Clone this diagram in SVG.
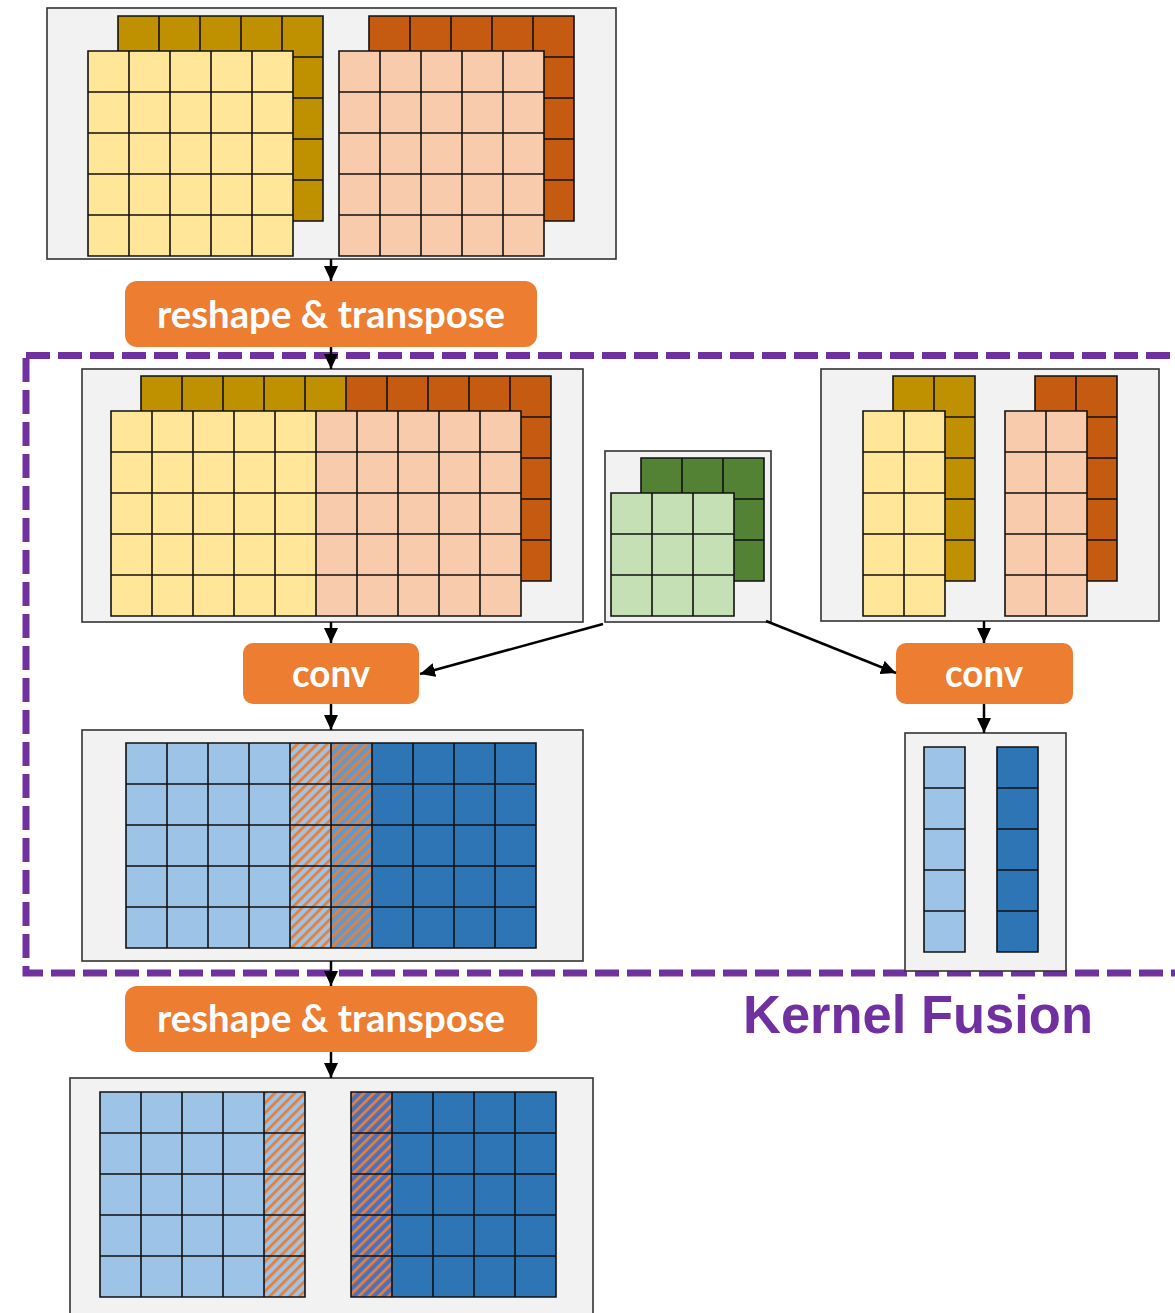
<svg xmlns="http://www.w3.org/2000/svg" width="1175" height="1313" viewBox="0 0 1175 1313">
<style>
.box{fill:#F2F2F2;stroke:#333;stroke-width:1.6}
.gl{fill:none;stroke:#111;stroke-width:1.6}
.op{fill:#ED7D31}
.opt{font-family:Lato,"Open Sans","Liberation Sans",sans-serif;font-weight:bold;font-size:38px;fill:#FFFFFF;text-anchor:middle}
.con{fill:none;stroke:#000;stroke-width:2.5}
.gold{fill:#BF9000}.orng{fill:#C55A11}.yel{fill:#FFE699}.pink{fill:#F8CBAD}
.dg{fill:#548235}.lg{fill:#C5E0B4}.lb{fill:#9DC3E6}.db{fill:#2E75B6}
</style>
<defs>
<marker id="ah" markerUnits="userSpaceOnUse" markerWidth="16" markerHeight="14" refX="15" refY="7" orient="auto">
<path d="M0,0 L15,7 L0,14 z" fill="#000"/>
</marker>
<pattern id="hatchL" patternUnits="userSpaceOnUse" width="7" height="7" patternTransform="rotate(45)"><rect width="7" height="7" fill="#9DC3E6"/><rect width="2.8" height="7" fill="#ED7D31"/></pattern>
<pattern id="hatchM" patternUnits="userSpaceOnUse" width="7" height="7" patternTransform="rotate(45)"><rect width="7" height="7" fill="#5B9BD5"/><rect width="2.8" height="7" fill="#ED7D31"/></pattern>
<pattern id="hatchD" patternUnits="userSpaceOnUse" width="7" height="7" patternTransform="rotate(45)"><rect width="7" height="7" fill="#4472C4"/><rect width="2.8" height="7" fill="#ED7D31"/></pattern>
</defs>

<!-- Kernel fusion boundary -->
<g id="kernel-fusion">
<path d="M26 355.5 H1200" fill="none" stroke="#7030A0" stroke-width="7" stroke-dasharray="24 8"/>
<path d="M26 355.5 V973 H1200" fill="none" stroke="#7030A0" stroke-width="7" stroke-dasharray="24 8" stroke-dashoffset="29.5"/>
<text x="743" y="1033" font-family="Liberation Sans,Arial,sans-serif" font-weight="bold" font-size="53" fill="#7030A0" textLength="350" lengthAdjust="spacingAndGlyphs">Kernel Fusion</text>
</g>

<!-- Input tensors -->
<g id="input">
<rect class="box" x="47" y="8" width="569" height="251"/>
<rect class="gold" x="118" y="16" width="205" height="205"/>
<path class="gl" d="M118 16H323V221H118Z M159 16V221M200 16V221M241 16V221M282 16V221M118 57H323M118 98H323M118 139H323M118 180H323"/>
<rect class="yel" x="88" y="51" width="205" height="205"/>
<path class="gl" d="M88 51H293V256H88Z M129 51V256M170 51V256M211 51V256M252 51V256M88 92H293M88 133H293M88 174H293M88 215H293"/>
<rect class="orng" x="369" y="16" width="205" height="205"/>
<path class="gl" d="M369 16H574V221H369Z M410 16V221M451 16V221M492 16V221M533 16V221M369 57H574M369 98H574M369 139H574M369 180H574"/>
<rect class="pink" x="339" y="51" width="205" height="205"/>
<path class="gl" d="M339 51H544V256H339Z M380 51V256M421 51V256M462 51V256M503 51V256M339 92H544M339 133H544M339 174H544M339 215H544"/>
</g>

<g id="reshape1">
<rect class="op" x="125" y="281" width="412" height="66" rx="12"/>
<text class="opt" x="331" y="328" textLength="348" lengthAdjust="spacingAndGlyphs">reshape &amp; transpose</text>
</g>

<!-- Reshaped tensor -->
<g id="reshaped">
<rect class="box" x="82" y="369" width="501" height="253"/>
<rect class="gold" x="141" y="376" width="205" height="205"/>
<rect class="orng" x="346" y="376" width="205" height="205"/>
<path class="gl" d="M141 376H551V581H141Z M182 376V581M223 376V581M264 376V581M305 376V581M346 376V581M387 376V581M428 376V581M469 376V581M510 376V581M141 417H551M141 458H551M141 499H551M141 540H551"/>
<rect class="yel" x="111" y="411" width="205" height="205"/>
<rect class="pink" x="316" y="411" width="205" height="205"/>
<path class="gl" d="M111 411H521V616H111Z M152 411V616M193 411V616M234 411V616M275 411V616M316 411V616M357 411V616M398 411V616M439 411V616M480 411V616M111 452H521M111 493H521M111 534H521M111 575H521"/>
</g>

<!-- Kernel -->
<g id="kernel">
<rect class="box" x="605" y="451" width="166" height="171"/>
<rect class="dg" x="641" y="458" width="123" height="123"/>
<path class="gl" d="M641 458H764V581H641Z M682 458V581M723 458V581M641 499H764M641 540H764"/>
<rect class="lg" x="611" y="493" width="123" height="123"/>
<path class="gl" d="M611 493H734V616H611Z M652 493V616M693 493V616M611 534H734M611 575H734"/>
</g>

<!-- Right input -->
<g id="input-right">
<rect class="box" x="821" y="369" width="338" height="252"/>
<rect class="gold" x="893" y="376" width="82" height="205"/>
<path class="gl" d="M893 376H975V581H893Z M934 376V581M893 417H975M893 458H975M893 499H975M893 540H975"/>
<rect class="yel" x="863" y="411" width="82" height="205"/>
<path class="gl" d="M863 411H945V616H863Z M904 411V616M863 452H945M863 493H945M863 534H945M863 575H945"/>
<rect class="orng" x="1035" y="376" width="82" height="205"/>
<path class="gl" d="M1035 376H1117V581H1035Z M1076 376V581M1035 417H1117M1035 458H1117M1035 499H1117M1035 540H1117"/>
<rect class="pink" x="1005" y="411" width="82" height="205"/>
<path class="gl" d="M1005 411H1087V616H1005Z M1046 411V616M1005 452H1087M1005 493H1087M1005 534H1087M1005 575H1087"/>
</g>

<g id="conv-left">
<rect class="op" x="243" y="643" width="176" height="61" rx="10"/>
<text class="opt" x="331" y="687" textLength="78" lengthAdjust="spacingAndGlyphs">conv</text>
</g>

<g id="conv-right">
<rect class="op" x="896" y="643" width="177" height="61" rx="10"/>
<text class="opt" x="984" y="687" textLength="78" lengthAdjust="spacingAndGlyphs">conv</text>
</g>

<!-- Conv output left -->
<g id="output-left">
<rect class="box" x="82" y="730" width="501" height="231"/>
<rect class="lb" x="126" y="743" width="164" height="205"/>
<rect fill="url(#hatchL)" x="290" y="743" width="41" height="205"/>
<rect fill="url(#hatchM)" x="331" y="743" width="41" height="205"/>
<rect class="db" x="372" y="743" width="164" height="205"/>
<path class="gl" d="M126 743H536V948H126Z M167 743V948M208 743V948M249 743V948M290 743V948M331 743V948M372 743V948M413 743V948M454 743V948M495 743V948M126 784H536M126 825H536M126 866H536M126 907H536"/>
</g>

<!-- Conv output right -->
<g id="output-right">
<rect class="box" x="905" y="733" width="161" height="238"/>
<rect class="lb" x="924" y="747" width="41" height="205"/>
<path class="gl" d="M924 747H965V952H924Z M924 788H965M924 829H965M924 870H965M924 911H965"/>
<rect class="db" x="997" y="747" width="41" height="205"/>
<path class="gl" d="M997 747H1038V952H997Z M997 788H1038M997 829H1038M997 870H1038M997 911H1038"/>
</g>

<g id="reshape2">
<rect class="op" x="125" y="986" width="412" height="66" rx="12"/>
<text class="opt" x="331" y="1032" textLength="348" lengthAdjust="spacingAndGlyphs">reshape &amp; transpose</text>
</g>

<!-- Final output -->
<g id="final">
<rect class="box" x="70" y="1078" width="523" height="250"/>
<rect class="lb" x="100" y="1092" width="164" height="205"/>
<rect fill="url(#hatchL)" x="264" y="1092" width="41" height="205"/>
<path class="gl" d="M100 1092H305V1297H100Z M141 1092V1297M182 1092V1297M223 1092V1297M264 1092V1297M100 1133H305M100 1174H305M100 1215H305M100 1256H305"/>
<rect fill="url(#hatchD)" x="351" y="1092" width="41" height="205"/>
<rect class="db" x="392" y="1092" width="164" height="205"/>
<path class="gl" d="M351 1092H556V1297H351Z M392 1092V1297M433 1092V1297M474 1092V1297M515 1092V1297M351 1133H556M351 1174H556M351 1215H556M351 1256H556"/>
</g>

<!-- Connectors -->
<g id="connectors">
<line class="con" x1="331" y1="259" x2="331" y2="281" marker-end="url(#ah)"/>
<line class="con" x1="331" y1="347" x2="331" y2="369" marker-end="url(#ah)"/>
<line class="con" x1="331" y1="622" x2="331" y2="643" marker-end="url(#ah)"/>
<line class="con" x1="331" y1="704" x2="331" y2="730" marker-end="url(#ah)"/>
<line class="con" x1="331" y1="961" x2="331" y2="986" marker-end="url(#ah)"/>
<line class="con" x1="331" y1="1052" x2="331" y2="1078" marker-end="url(#ah)"/>
<line class="con" x1="984" y1="621" x2="984" y2="643" marker-end="url(#ah)"/>
<line class="con" x1="984" y1="704" x2="984" y2="733" marker-end="url(#ah)"/>
<line class="con" x1="603" y1="624" x2="420" y2="674" marker-end="url(#ah)"/>
<line class="con" x1="766" y1="621" x2="896" y2="673" marker-end="url(#ah)"/>
</g>
</svg>
